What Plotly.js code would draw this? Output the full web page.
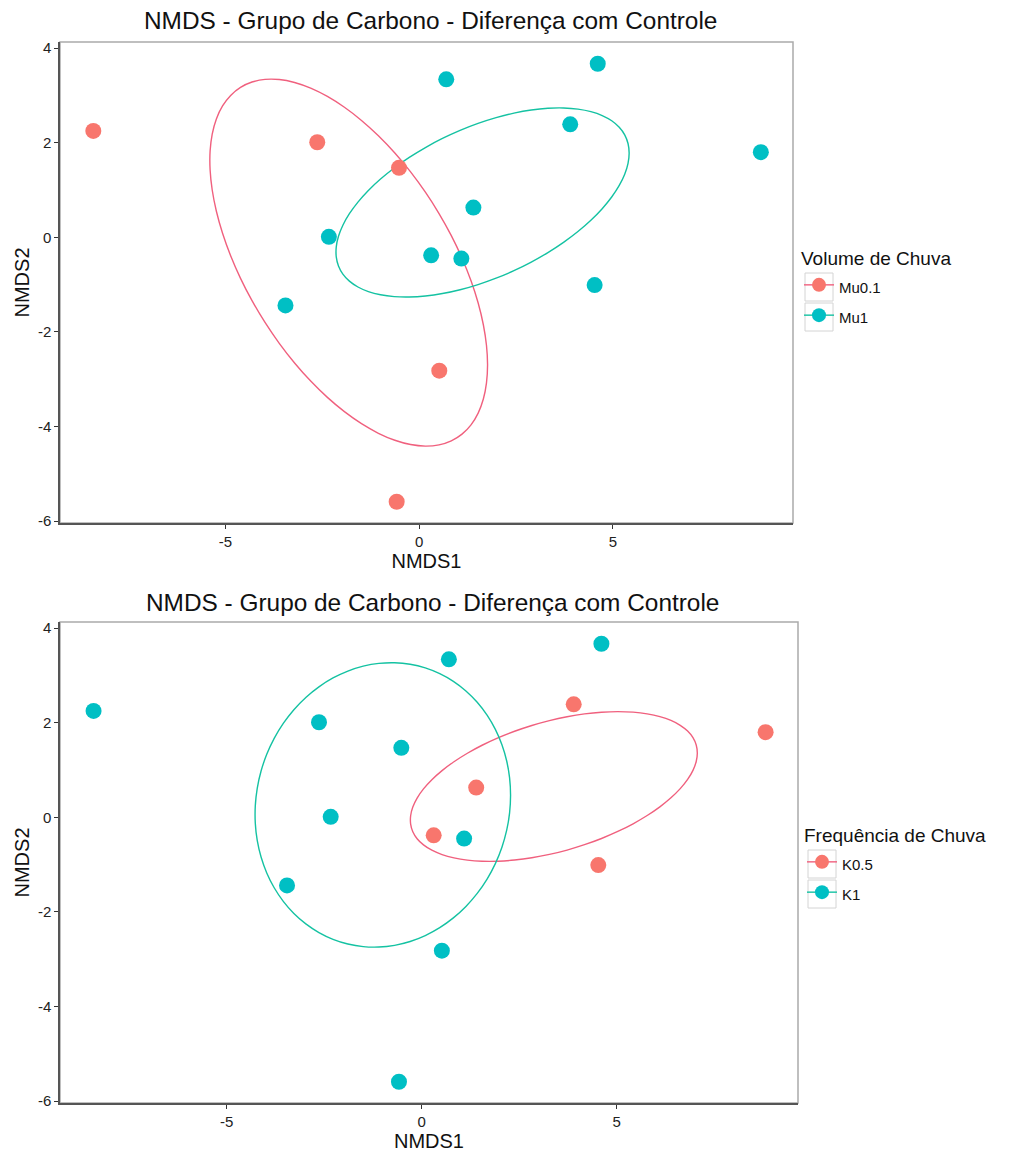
<!DOCTYPE html>
<html><head><meta charset="utf-8">
<script src="https://cdn.plot.ly/plotly-3.0.1.min.js"></script>
<style>body{margin:0;background:#fff}</style>
</head><body><div id="chart" style="width:1013px;height:1152px"></div>
<script>
// ---- data ----
const chartTitle = 'NMDS - Grupo de Carbono - Diferença com Controle';
const nmds1 = [-8.41, -2.63, -0.52, 0.52, -0.58, 0.70, 4.61, 3.90, 8.82, 1.40, -2.33, 0.31, 1.09, 4.53, -3.45];
const nmds2 = [2.25, 2.01, 1.47, -2.82, -5.59, 3.34, 3.67, 2.39, 1.80, 0.63, 0.01, -0.38, -0.45, -1.01, -1.44];
const volume = ['Mu0.1','Mu0.1','Mu0.1','Mu0.1','Mu0.1','Mu1','Mu1','Mu1','Mu1','Mu1','Mu1','Mu1','Mu1','Mu1','Mu1'];
const frequencia = ['K1','K1','K1','K1','K1','K1','K1','K0.5','K0.5','K0.5','K1','K0.5','K1','K0.5','K1'];
const volumeLevels = ['Mu0.1', 'Mu1'];
const freqLevels = ['K0.5', 'K1'];
const xTicks = [-5, 0, 5];
const yTicks = [-6, -4, -2, 0, 2, 4];
const ellipseLevel = 0.5;

// ---- styles ----
const pointColors = ['#F8766D', '#00BFC4'];
const lineColors = ['#F0607E', '#14C2A2'];
const FONT = 'Liberation Sans, Arial, Helvetica, sans-serif';

// ---- robust t covariance (MASS::cov.trob) + stat_ellipse ----
function covTrob(xs, ys) {
  const nu = 5, p = 2, maxit = 25, tol = 0.01, n = xs.length;
  let w = xs.map(() => 1);
  let loc = [xs.reduce((a,b)=>a+b,0)/n, ys.reduce((a,b)=>a+b,0)/n];
  let dx = [], dy = [];
  for (let it = 0; it < maxit; it++) {
    const w0 = w.slice();
    dx = xs.map(v => v - loc[0]); dy = ys.map(v => v - loc[1]);
    const sw = w.reduce((a,b)=>a+b,0);
    let sxx=0, sxy=0, syy=0;
    for (let i=0;i<n;i++){ const f=w[i]/sw; sxx+=f*dx[i]*dx[i]; sxy+=f*dx[i]*dy[i]; syy+=f*dy[i]*dy[i]; }
    const det = sxx*syy - sxy*sxy;
    w = dx.map((_, i) => {
      const Q = (syy*dx[i]*dx[i] - 2*sxy*dx[i]*dy[i] + sxx*dy[i]*dy[i]) / det;
      return (nu + p) / (nu + Q);
    });
    const sw2 = w.reduce((a,b)=>a+b,0);
    loc = [w.reduce((a,v,i)=>a+v*xs[i],0)/sw2, w.reduce((a,v,i)=>a+v*ys[i],0)/sw2];
    if (w.every((v,i)=>Math.abs(v-w0[i])<tol)) break;
  }
  let a=0,b=0,c=0;
  for (let i=0;i<n;i++){ a+=w[i]*dx[i]*dx[i]; b+=w[i]*dx[i]*dy[i]; c+=w[i]*dy[i]*dy[i]; }
  return {center: loc, cov: [a/n, b/n, c/n]};
}
function ellipse(xs, ys, level) {
  const n = xs.length, d = n - 1;
  const qf = (d/2) * (Math.pow(1-level, -2/d) - 1);
  const r = Math.sqrt(2 * qf);
  const v = covTrob(xs, ys);
  const R11 = Math.sqrt(v.cov[0]), R12 = v.cov[1]/R11, R22 = Math.sqrt(v.cov[2] - R12*R12);
  const ex = [], ey = [], seg = 51;
  for (let k=0;k<=seg;k++){
    const t = k*2*Math.PI/seg, co=Math.cos(t), si=Math.sin(t);
    ex.push(v.center[0] + r*co*R11);
    ey.push(v.center[1] + r*(co*R12 + si*R22));
  }
  return [ex, ey];
}

function panelTraces(groups, levels, xa, ya, legendName) {
  const out = [];
  levels.forEach((lev, j) => {
    const xs = nmds1.filter((_, i) => groups[i] === lev);
    const ys = nmds2.filter((_, i) => groups[i] === lev);
    const [ex, ey] = ellipse(xs, ys, ellipseLevel);
    out.push({x: ex, y: ey, xaxis: xa, yaxis: ya, mode: 'lines', type: 'scatter',
      line: {color: lineColors[j], width: 1.4, shape: 'spline', smoothing: 0.6}, showlegend: false, hoverinfo: 'skip'});
  });
  levels.forEach((lev, j) => {
    const xs = nmds1.filter((_, i) => groups[i] === lev);
    const ys = nmds2.filter((_, i) => groups[i] === lev);
    out.push({x: xs, y: ys, xaxis: xa, yaxis: ya, mode: 'markers', type: 'scatter',
      marker: {color: pointColors[j], size: 16}, showlegend: false, name: lev});
  });
  levels.forEach((lev, j) => {
    out.push({x: [null], y: [null], xaxis: xa, yaxis: ya, mode: 'lines+markers', type: 'scatter',
      name: '<span style="font-size:15px">' + lev + '</span>', legend: legendName,
      marker: {color: pointColors[j], size: 14}, line: {color: lineColors[j], width: 1.4}});
  });
  return out;
}

const traces = [].concat(
  panelTraces(volume, volumeLevels, 'x', 'y', 'legend'),
  panelTraces(frequencia, freqLevels, 'x2', 'y2', 'legend2')
);

const W = 1013, H = 1152;
const px = v => v / W, py = v => 1 - v / H;

function xAxis(dom, anchor) {
  return {domain: dom, anchor: anchor, range: [-9.27, 9.65], tickvals: xTicks, ticktext: xTicks.map(String),
    showgrid: false, zeroline: false, showline: true, linecolor: '#555', linewidth: 1.5,
    ticks: 'outside', ticklen: 4, tickcolor: '#333', tickfont: {size: 15, color: '#222', family: FONT},
    title: {text: 'NMDS1', font: {size: 20, color: '#111', family: FONT}, standoff: 4}};
}
function yAxis(dom, anchor) {
  return {domain: dom, anchor: anchor, range: [-6.04, 4.13], tickvals: yTicks, ticktext: yTicks.map(String),
    showgrid: false, zeroline: false, showline: true, linecolor: '#555', linewidth: 1.5,
    ticks: 'outside', ticklen: 4, tickcolor: '#333', tickfont: {size: 15, color: '#222', family: FONT},
    title: {text: 'NMDS2', font: {size: 20, color: '#111', family: FONT}, standoff: 3}};
}

function keyBox(x0, yc) {
  return {type: 'rect', xref: 'paper', yref: 'paper', x0: px(x0), x1: px(x0 + 28), y0: py(yc + 14), y1: py(yc - 14),
    line: {color: '#d4d4d4', width: 1}, layer: 'below'};
}

const layout = {
  width: W, height: H, margin: {l: 0, r: 0, t: 0, b: 0},
  paper_bgcolor: '#fff', plot_bgcolor: '#fff',
  font: {family: FONT, color: '#111'},
  xaxis: xAxis([px(60), px(793)], 'y'),
  yaxis: yAxis([py(523), py(42)], 'x'),
  xaxis2: xAxis([px(60), px(798)], 'y2'),
  yaxis2: yAxis([py(1103), py(622)], 'x2'),
  shapes: [
    {type: 'rect', xref: 'paper', yref: 'paper', x0: px(60), x1: px(793), y0: py(523), y1: py(42),
     line: {color: '#aaa', width: 1.5}, layer: 'below'},
    {type: 'rect', xref: 'paper', yref: 'paper', x0: px(60), x1: px(798), y0: py(1103), y1: py(622),
     line: {color: '#aaa', width: 1.5}, layer: 'below'},
    keyBox(805, 287), keyBox(805, 317), keyBox(808, 864), keyBox(808, 894)
  ],
  annotations: [
    {text: chartTitle, xref: 'paper', yref: 'paper', x: px(430), y: py(20), xanchor: 'center', yanchor: 'middle',
     showarrow: false, font: {size: 24.4, family: FONT, color: '#111'}},
    {text: chartTitle, xref: 'paper', yref: 'paper', x: px(432), y: py(602), xanchor: 'center', yanchor: 'middle',
     showarrow: false, font: {size: 24.4, family: FONT, color: '#111'}}
  ],
  legend: {x: px(799), xanchor: 'left', y: py(240), yanchor: 'top', bgcolor: 'rgba(0,0,0,0)',
    title: {text: 'Volume de Chuva', font: {size: 19, family: FONT}}, font: {size: 21, family: FONT},
    itemwidth: 30, tracegroupgap: 0},
  legend2: {x: px(802), xanchor: 'left', y: py(817), yanchor: 'top', bgcolor: 'rgba(0,0,0,0)',
    title: {text: 'Frequência de Chuva', font: {size: 19, family: FONT}}, font: {size: 21, family: FONT},
    itemwidth: 30, tracegroupgap: 0}
};

Plotly.newPlot('chart', traces, layout, {displayModeBar: false});
</script>
</body></html>
